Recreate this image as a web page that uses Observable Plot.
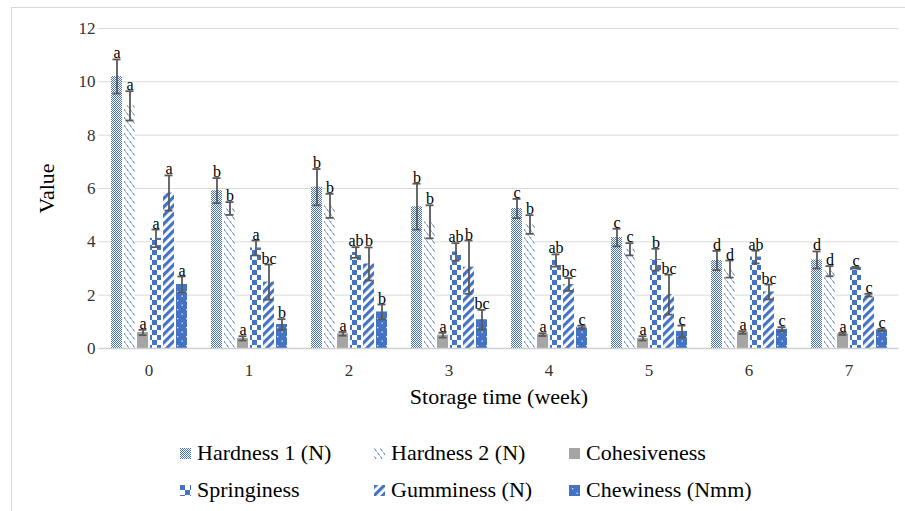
<!DOCTYPE html>
<html><head><meta charset="utf-8">
<script src="https://cdn.jsdelivr.net/npm/d3@7"></script>
<script src="https://cdn.jsdelivr.net/npm/@observablehq/plot@0.6"></script>
<style>
body{margin:0;background:#fff;}
#wrap{position:relative;width:905px;height:511px;overflow:hidden;font-family:"Liberation Serif","DejaVu Serif","Times New Roman",serif;background:#fff;}
#frame{position:absolute;left:11px;top:7px;width:1000px;height:600px;border-left:1px solid #d9d9d9;border-top:1px solid #d9d9d9;box-sizing:border-box;}
#chart{position:absolute;left:0;top:0;}
#legend{position:absolute;left:0;top:430px;width:905px;height:81px;}
.item{position:absolute;display:flex;align-items:center;font-size:22px;color:#000;white-space:nowrap;line-height:22px;height:22px;}
.item svg{margin-right:6px;flex:none;}
</style>
</head><body>
<div id="wrap"><div id="frame"></div><div id="chart"></div><div id="legend"></div></div>
<script>
// ---- data ----
const weeks = [0, 1, 2, 3, 4, 5, 6, 7];
const seriesNames = ["Hardness 1 (N)", "Hardness 2 (N)", "Cohesiveness", "Springiness", "Gumminess (N)", "Chewiness (Nmm)"];
const yTicks = [0, 2, 4, 6, 8, 10, 12];

const hardness1 = [10.2, 5.92, 6.05, 5.32, 5.25, 4.16, 3.3, 3.32];
const hardness1Err = [0.64, 0.47, 0.68, 0.86, 0.36, 0.33, 0.36, 0.32];
const hardness1Letters = ["a", "b", "b", "b", "c", "c", "d", "d"];

const hardness2 = [9.1, 5.25, 5.35, 4.75, 4.65, 3.72, 2.98, 2.9];
const hardness2Err = [0.55, 0.24, 0.45, 0.62, 0.35, 0.23, 0.32, 0.19];
const hardness2Letters = ["a", "b", "b", "b", "b", "c", "d", "d"];

const cohesiveness = [0.6, 0.38, 0.55, 0.5, 0.52, 0.38, 0.6, 0.55];
const cohesivenessErr = [0.1, 0.08, 0.07, 0.09, 0.05, 0.08, 0.05, 0.04];
const cohesivenessLetters = ["a", "a", "a", "a", "a", "a", "a", "a"];

const springiness = [4.13, 3.77, 3.6, 3.62, 3.3, 3.33, 3.43, 3.03];
const springinessErr = [0.33, 0.28, 0.2, 0.33, 0.23, 0.41, 0.24, 0.03];
const springinessLetters = ["a", "a", "ab", "ab", "ab", "b", "ab", "c"];

const gumminess = [5.83, 2.49, 3.17, 3.05, 2.4, 2.02, 2.12, 2.0];
const gumminessErr = [0.66, 0.66, 0.62, 1.0, 0.24, 0.75, 0.28, 0.05];
const gumminessLetters = ["a", "bc", "b", "b", "bc", "bc", "bc", "c"];

const chewiness = [2.4, 0.9, 1.37, 1.08, 0.8, 0.64, 0.72, 0.7];
const chewinessErr = [0.3, 0.2, 0.28, 0.37, 0.06, 0.22, 0.08, 0.04];
const chewinessLetters = ["a", "b", "b", "bc", "c", "c", "c", "c"];

const values = [hardness1, hardness2, cohesiveness, springiness, gumminess, chewiness];
const errs = [hardness1Err, hardness2Err, cohesivenessErr, springinessErr, gumminessErr, chewinessErr];
const letters = [hardness1Letters, hardness2Letters, cohesivenessLetters, springinessLetters, gumminessLetters, chewinessLetters];
const patternIds = ["pH1", "pH2", "pCo", "pSp", "pGu", "pCh"];

const rows = weeks.flatMap((w, i) => seriesNames.map((s, j) => ({
  week: w, series: s, value: values[j][i], err: errs[j][i], letter: letters[j][i]
})));

const BLUE = "#4472C4";
const defsHtml = `
<pattern id="pH1" width="2" height="2" patternUnits="userSpaceOnUse">
  <rect width="2" height="2" fill="#fff"/><rect width="1" height="1" fill="${BLUE}"/><rect x="1" y="1" width="1" height="1" fill="${BLUE}"/>
</pattern>
<pattern id="pH2" width="6" height="8" patternUnits="userSpaceOnUse">
  <rect width="6" height="8" fill="#fff"/>
  <line x1="0.5" y1="0.5" x2="2.5" y2="3.5" stroke="${BLUE}" stroke-width="1"/>
  <line x1="3.5" y1="4.5" x2="5.5" y2="7.5" stroke="${BLUE}" stroke-width="1"/>
</pattern>
<pattern id="pCo" width="4" height="4" patternUnits="userSpaceOnUse">
  <rect width="4" height="4" fill="#A5A5A5"/>
</pattern>
<pattern id="pSp" width="10" height="10" patternUnits="userSpaceOnUse">
  <rect width="10" height="10" fill="#fff"/><rect width="5" height="5" fill="${BLUE}"/><rect x="5" y="5" width="5" height="5" fill="${BLUE}"/>
</pattern>
<pattern id="pGu" width="6" height="6" patternUnits="userSpaceOnUse" patternTransform="rotate(45)">
  <rect width="6" height="6" fill="#fff"/><rect width="3.2" height="6" fill="${BLUE}"/>
</pattern>
<pattern id="pCh" width="9" height="9" patternUnits="userSpaceOnUse">
  <rect width="9" height="9" fill="${BLUE}"/><rect x="3" y="3" width="1.3" height="1.3" fill="#fff" opacity="0.85"/><rect x="7.5" y="7.5" width="1.3" height="1.3" fill="#fff" opacity="0.85"/>
</pattern>`;

const lo = d => d.value - d.err;
const hi = d => d.value + d.err;
const FONT = "'Liberation Serif', 'DejaVu Serif', 'Times New Roman', serif";

const chart = Plot.plot({
  width: 905, height: 430,
  marginLeft: 98, marginRight: 7, marginTop: 28, marginBottom: 82,
  style: {fontFamily: FONT, background: "transparent"},
  fx: {domain: weeks, paddingInner: 0.23, paddingOuter: 0.115},
  x: {domain: seriesNames, paddingInner: 0.19, paddingOuter: 0, axis: null},
  y: {domain: [0, 12]},
  color: {domain: seriesNames, range: patternIds.map(id => `url(#${id})`)},
  marks: [
    Plot.ruleY(yTicks.filter(t => t > 0), {stroke: "#d9d9d9", strokeWidth: 1, insetLeft: -11.5, insetRight: -11.5}),
    Plot.barY(rows, {fx: "week", x: "series", y: "value", fill: "series"}),
    Plot.ruleY([0], {stroke: "#d0d0d0", strokeWidth: 1.6, insetLeft: -11.5, insetRight: -11.5}),
    Plot.ruleX(rows, {fx: "week", x: "series", y1: lo, y2: hi, stroke: "#595959", strokeWidth: 1.8}),
    Plot.tickY(rows, {fx: "week", x: "series", y: lo, stroke: "#595959", strokeWidth: 1.8, insetLeft: 1.5, insetRight: 1.5}),
    Plot.tickY(rows, {fx: "week", x: "series", y: hi, stroke: "#595959", strokeWidth: 1.8, insetLeft: 1.5, insetRight: 1.5}),
    Plot.text(rows, {fx: "week", x: "series", y: hi, text: "letter", lineAnchor: "bottom", dy: -1, fontSize: 16, fill: "#000"}),
    Plot.axisY({ticks: yTicks, tickSize: 0, tickPadding: 15, fontSize: 17, color: "#333", tickFormat: d => String(d),
      label: "Value", labelArrow: false, labelAnchor: "center", labelOffset: 72}),
    Plot.axisFx({anchor: "bottom", tickSize: 0, tickPadding: 15, fontSize: 17, color: "#333",
      label: "Storage time (week)", labelArrow: false, labelAnchor: "center", labelOffset: 55})
  ]
});

d3.select(chart).insert("defs", ":first-child").html(defsHtml);
d3.select(chart).selectAll('[aria-label$="axis label"]').each(function() {
  d3.select(this).attr("font-size", 22).attr("fill", "#000");
  d3.select(this).selectAll("text").attr("font-size", 22).attr("fill", "#000").style("font-size", "22px");
});
document.getElementById("chart").appendChild(chart);

// ---- legend ----
const legendPos = [[180, 12], [374, 12], [569, 12], [180, 49], [374, 49], [569, 49]];
const legend = document.getElementById("legend");
seriesNames.forEach((s, j) => {
  const div = document.createElement("div");
  div.className = "item";
  div.style.left = legendPos[j][0] + "px";
  div.style.top = legendPos[j][1] + "px";
  div.innerHTML = `<svg width="11" height="11"><rect width="11" height="11" fill="url(#${patternIds[j]})"/></svg><span>${s}</span>`;
  legend.appendChild(div);
});
</script>
</body></html>
